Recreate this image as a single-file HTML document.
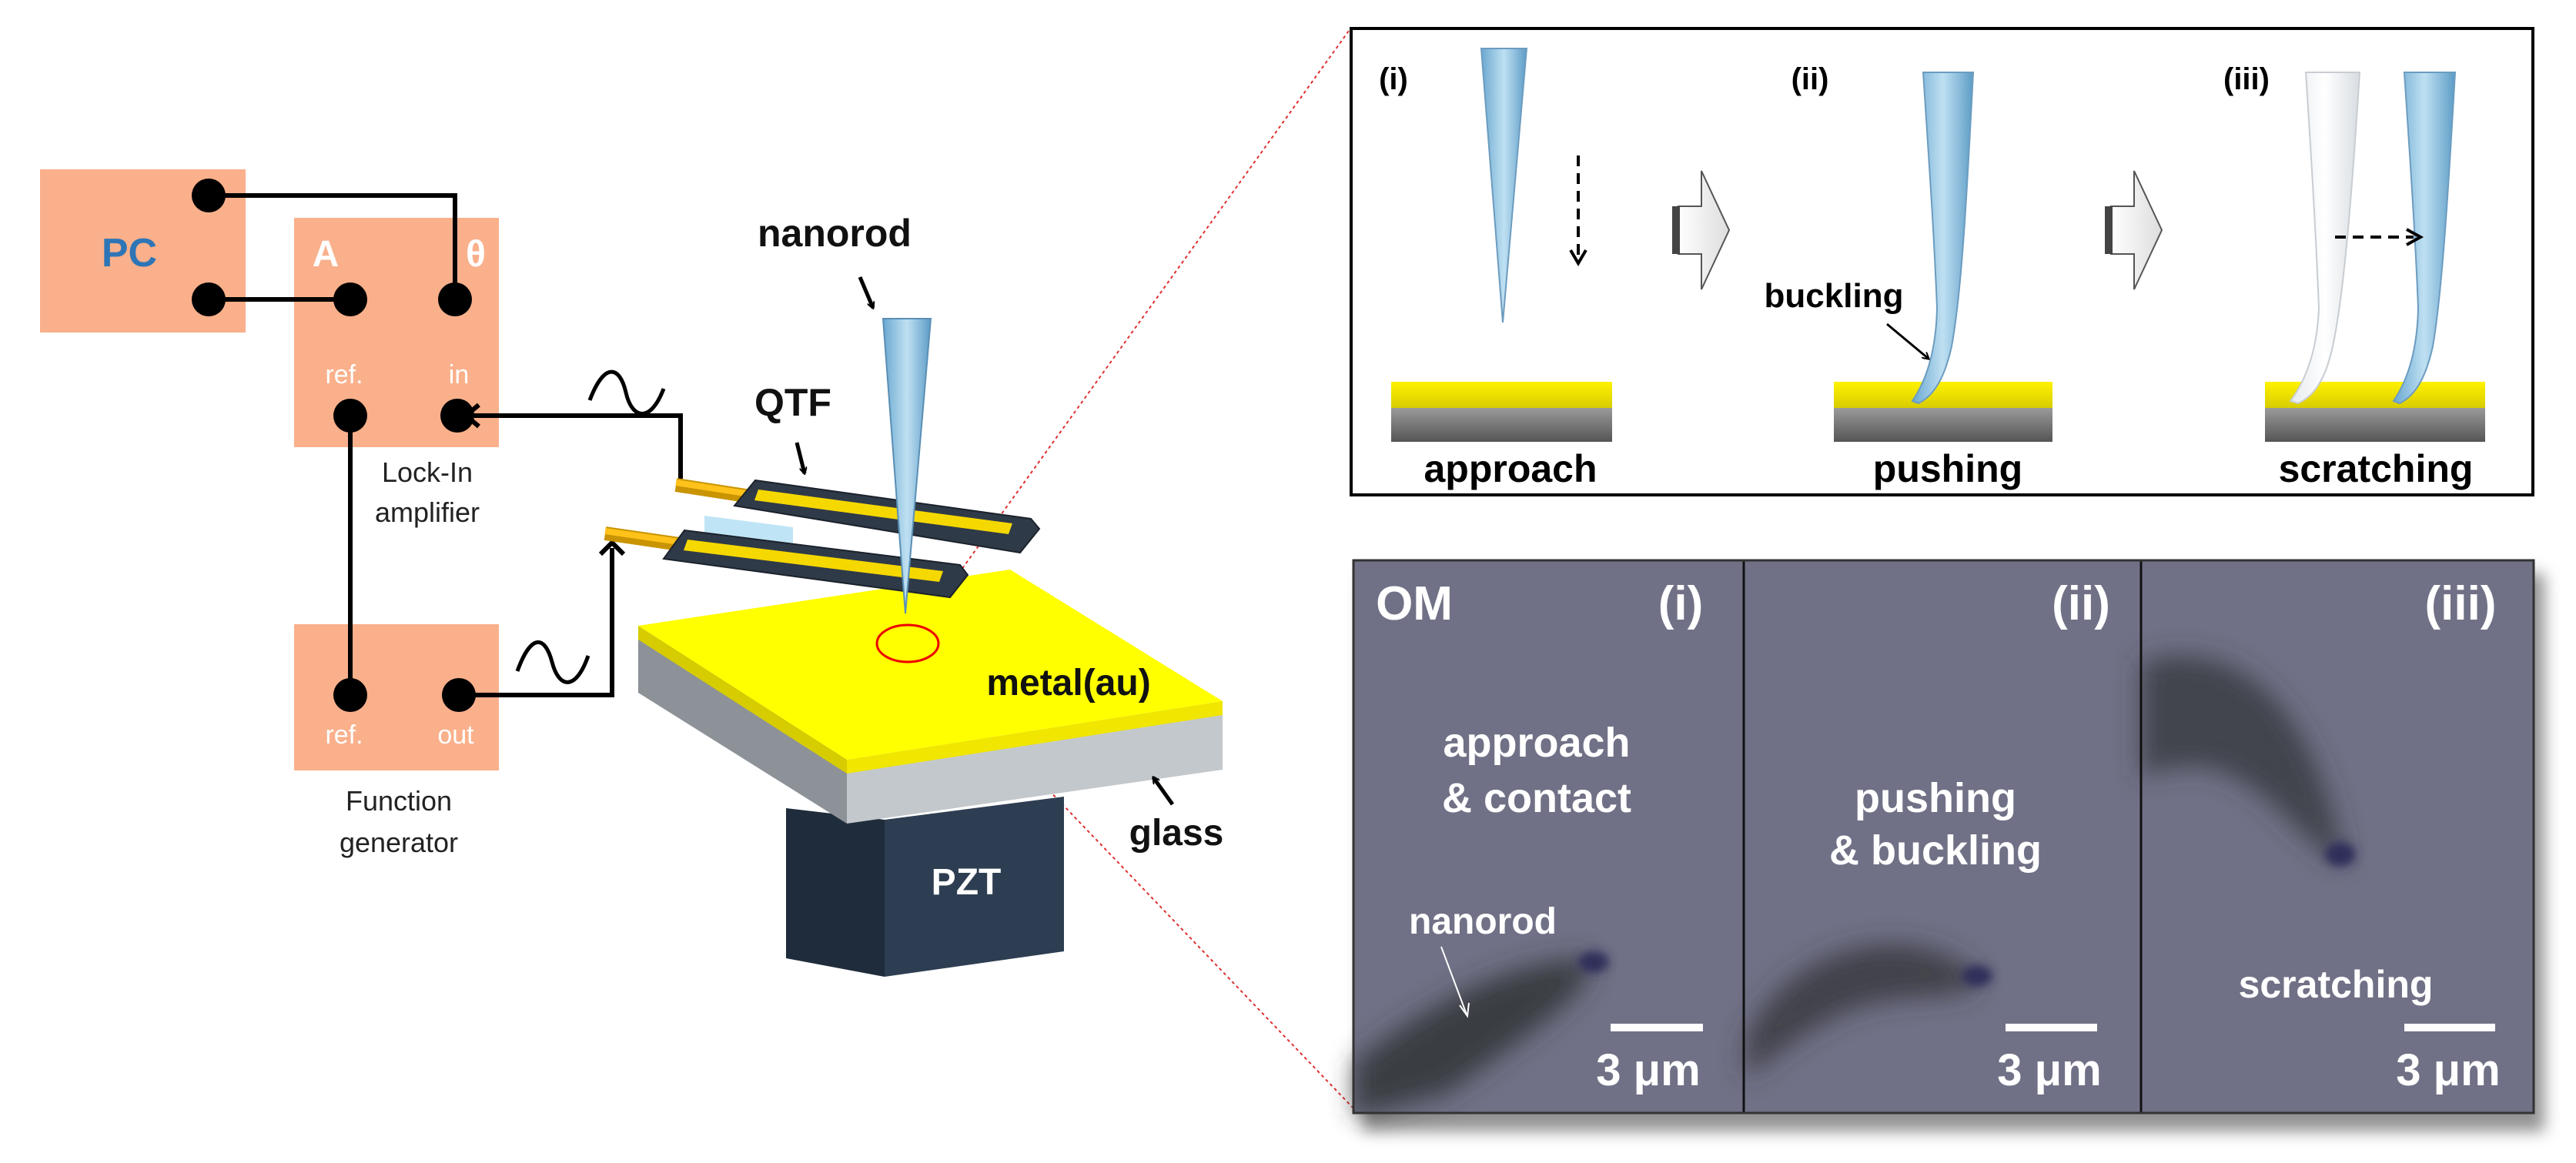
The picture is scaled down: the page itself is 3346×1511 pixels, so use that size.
<!DOCTYPE html>
<html><head><meta charset="utf-8"><style>
html,body{margin:0;padding:0;background:#fff;}
svg{display:block;}
text{font-family:"Liberation Sans",sans-serif;}
.nar{font-family:"Liberation Sans Narrow","Liberation Sans",sans-serif;}
</style></head><body>
<svg width="3346" height="1511" viewBox="0 0 3346 1511" xmlns="http://www.w3.org/2000/svg">
<defs>
<linearGradient id="tipg" x1="0" x2="1" y1="0" y2="0">
<stop offset="0" stop-color="#6aa8d0"/><stop offset="0.5" stop-color="#bfe0f2"/><stop offset="1" stop-color="#5d9cc6"/></linearGradient>
<linearGradient id="ghost" x1="0" x2="1"><stop offset="0" stop-color="#e6eaee"/><stop offset="0.5" stop-color="#ffffff"/><stop offset="1" stop-color="#d8dde2"/></linearGradient>
<linearGradient id="yl" x1="0" y1="0" x2="0" y2="1"><stop offset="0" stop-color="#fff200"/><stop offset="1" stop-color="#d8cc00"/></linearGradient>
<linearGradient id="gr" x1="0" y1="0" x2="0" y2="1"><stop offset="0" stop-color="#9a9a9a"/><stop offset="1" stop-color="#555"/></linearGradient>
<linearGradient id="arr" x1="0" x2="1"><stop offset="0" stop-color="#fff"/><stop offset="1" stop-color="#ddd"/></linearGradient>
<filter id="blur" x="-50%" y="-50%" width="200%" height="200%"><feGaussianBlur stdDeviation="16"/></filter>
<filter id="blur2" x="-50%" y="-50%" width="200%" height="200%"><feGaussianBlur stdDeviation="6"/></filter>
<filter id="sh" x="-10%" y="-10%" width="120%" height="130%"><feGaussianBlur stdDeviation="10"/></filter>
<marker id="ah" markerWidth="10" markerHeight="10" refX="8" refY="5" orient="auto" markerUnits="userSpaceOnUse" viewBox="0 0 10 10"><path d="M0,0 L9,5 L0,10" fill="none" stroke="#000" stroke-width="2"/></marker>
</defs>

<line x1="1180" y1="836" x2="1752" y2="40" stroke="#e03030" stroke-width="2" stroke-dasharray="4,4"/>
<line x1="1180" y1="836" x2="1758" y2="1440" stroke="#e03030" stroke-width="2" stroke-dasharray="4,4"/>

<rect x="52" y="220" width="267" height="212" fill="#f9b08b"/>
<rect x="382" y="283" width="266" height="298" fill="#f9b08b"/>
<rect x="382" y="811" width="266" height="190" fill="#f9b08b"/>

<g stroke="#000" stroke-width="6" fill="none">
<polyline points="271,254 591,254 591,389"/>
<line x1="271" y1="389" x2="455" y2="389"/>
<line x1="455" y1="540" x2="455" y2="903"/>
<polyline points="596,903 795,903 795,712"/>
<polyline points="884,622 884,540 605,540"/>
<polyline points="780,720 795,705 810,720"/>
<polyline points="622,526 605,540 622,554"/>
</g>
<g fill="#000">
<circle cx="271" cy="254" r="22"/><circle cx="271" cy="389" r="22"/>
<circle cx="455" cy="389" r="22"/><circle cx="591" cy="389" r="22"/>
<circle cx="455" cy="540" r="22"/><circle cx="594" cy="540" r="22"/>
<circle cx="455" cy="903" r="22"/><circle cx="596" cy="903" r="22"/>
</g>
<path d="M766,520 C785,470 805,475 813,510 C821,545 845,550 862,505" fill="none" stroke="#000" stroke-width="5"/>
<path d="M672,872 C690,822 708,826 717,860 C726,895 748,898 764,852" fill="none" stroke="#000" stroke-width="5"/>

<text x="168" y="346" font-size="52" font-weight="bold" fill="#2e75b6" text-anchor="middle">PC</text>
<text x="423" y="346" font-size="48" font-weight="bold" fill="#fff" text-anchor="middle">A</text>
<text x="618" y="346" font-size="48" font-weight="bold" fill="#fff" text-anchor="middle">θ</text>
<text x="447" y="498" font-size="34" fill="#fff" text-anchor="middle">ref.</text>
<text x="596" y="498" font-size="34" fill="#fff" text-anchor="middle">in</text>
<text x="447" y="966" font-size="34" fill="#fff" text-anchor="middle">ref.</text>
<text x="592" y="966" font-size="34" fill="#fff" text-anchor="middle">out</text>
<text x="555" y="626" font-size="36" fill="#222" text-anchor="middle">Lock-In</text>
<text x="555" y="678" font-size="36" fill="#222" text-anchor="middle">amplifier</text>
<text x="518" y="1053" font-size="36" fill="#222" text-anchor="middle">Function</text>
<text x="518" y="1107" font-size="36" fill="#222" text-anchor="middle">generator</text>

<polygon points="1021,1050 1149,1065 1149,1269 1021,1245" fill="#1f2c3c"/>
<polygon points="1149,1065 1382,1035 1382,1236 1149,1269" fill="#2e3e52"/>
<text x="1255" y="1162" font-size="48" font-weight="bold" fill="#fff" text-anchor="middle">PZT</text>

<polygon points="829,813 1100,987 1100,1070 829,900" fill="#8d9298"/>
<polygon points="1100,987 1588,911 1588,1000 1100,1070" fill="#c3c8cc"/>
<polygon points="829,813 1100,987 1100,1005 829,831" fill="#d6cc00"/>
<polygon points="1100,987 1588,911 1588,929 1100,1005" fill="#f0e600"/>
<polygon points="829,813 1312,740 1588,911 1100,987" fill="#ffff00"/>
<ellipse cx="1179" cy="836" rx="40" ry="24" fill="none" stroke="#e00" stroke-width="3"/>
<text x="1388" y="903" font-size="48" font-weight="bold" fill="#111" text-anchor="middle">metal(au)</text>
<text x="1528" y="1098" font-size="48" font-weight="bold" fill="#111" text-anchor="middle">glass</text>
<line x1="1523" y1="1045" x2="1498" y2="1010" stroke="#000" stroke-width="5" marker-end="url(#ah)"/>

<line x1="786" y1="693" x2="889" y2="708" stroke="#c99400" stroke-width="18"/>
<line x1="786" y1="690" x2="889" y2="705" stroke="#ffc21a" stroke-width="8"/>
<line x1="878" y1="630" x2="975" y2="645" stroke="#c99400" stroke-width="18"/>
<line x1="878" y1="627" x2="975" y2="642" stroke="#ffc21a" stroke-width="8"/>
<polygon points="915,670 1030,685 1030,710 915,695" fill="#bfe4f6"/>
<polygon points="981,624 1339,674 1350,687 1325,718 954,657" fill="#2f3a48" stroke="#1b222c" stroke-width="2"/>
<polygon points="985,636 1315,680 1310,694 980,650" fill="#f5d800"/>
<polygon points="889,689 1247,734 1257,747 1234,776 862,726" fill="#2f3a48" stroke="#1b222c" stroke-width="2"/>
<polygon points="893,701 1225,742 1220,756 888,715" fill="#f5d800"/>
<polygon points="1147,414 1209,414 1176,797" fill="url(#tipg)" stroke="#5a8fb5" stroke-width="2"/>
<text x="1084" y="320" font-size="50" font-weight="bold" fill="#111" text-anchor="middle">nanorod</text>
<line x1="1117" y1="360" x2="1134" y2="400" stroke="#000" stroke-width="5" marker-end="url(#ah)"/>
<text x="1030" y="540" font-size="50" font-weight="bold" fill="#111" text-anchor="middle">QTF</text>
<line x1="1035" y1="575" x2="1045" y2="615" stroke="#000" stroke-width="5" marker-end="url(#ah)"/>

<rect x="1755" y="37" width="1535" height="606" fill="#fff" stroke="#000" stroke-width="4"/>
<text x="1810" y="116" font-size="40" font-weight="bold" text-anchor="middle">(i)</text>
<text x="2351" y="116" font-size="40" font-weight="bold" text-anchor="middle">(ii)</text>
<text x="2918" y="116" font-size="40" font-weight="bold" text-anchor="middle">(iii)</text>
<polygon points="1924,63 1983,63 1952,419" fill="url(#tipg)" stroke="#6c9cc0" stroke-width="2"/>
<line x1="2050" y1="202" x2="2050" y2="335" stroke="#000" stroke-width="4" stroke-dasharray="14,9"/>
<polyline points="2040,325 2050,342 2060,325" fill="none" stroke="#000" stroke-width="4"/>
<rect x="1807" y="496" width="287" height="34" fill="url(#yl)"/>
<rect x="1807" y="530" width="287" height="44" fill="url(#gr)"/>
<rect x="2382" y="496" width="284" height="34" fill="url(#yl)"/>
<rect x="2382" y="530" width="284" height="44" fill="url(#gr)"/>
<rect x="2942" y="496" width="286" height="34" fill="url(#yl)"/>
<rect x="2942" y="530" width="286" height="44" fill="url(#gr)"/>
<text x="1962" y="626" font-size="50" font-weight="bold" text-anchor="middle">approach</text>
<text x="2530" y="626" font-size="50" font-weight="bold" text-anchor="middle">pushing</text>
<text x="3086" y="626" font-size="50" font-weight="bold" text-anchor="middle">scratching</text>
<g stroke="#555" stroke-width="2" fill="url(#arr)">
<polygon points="2180,268 2210,268 2210,222 2246,299 2210,376 2210,330 2180,330"/>
<polygon points="2742,268 2772,268 2772,222 2808,299 2772,376 2772,330 2742,330"/>
</g>
<rect x="2172" y="268" width="10" height="62" fill="#444"/>
<rect x="2734" y="268" width="10" height="62" fill="#444"/>
<path d="M2498,94 L2563,94 C2555,250 2548,380 2535,450 C2525,495 2510,515 2492,524 L2484,521 C2505,490 2515,450 2516,400 C2512,300 2505,200 2498,94 Z" fill="url(#tipg)" stroke="#6c9cc0" stroke-width="2"/>
<text x="2382" y="399" font-size="44" font-weight="bold" text-anchor="middle">buckling</text>
<line x1="2451" y1="421" x2="2505" y2="466" stroke="#000" stroke-width="3" marker-end="url(#ah)"/>
<path d="M2995,94 L3065,94 C3055,250 3045,380 3030,450 C3020,495 3005,515 2985,524 L2975,521 C2998,490 3010,450 3012,400 C3008,300 3002,200 2995,94 Z" fill="url(#ghost)" stroke="#c8cdd2" stroke-width="2"/>
<path d="M3123,94 L3189,94 C3180,250 3172,380 3160,450 C3150,495 3135,515 3117,524 L3109,521 C3130,490 3140,450 3141,400 C3137,300 3130,200 3123,94 Z" fill="url(#tipg)" stroke="#6c9cc0" stroke-width="2"/>
<line x1="3033" y1="308" x2="3135" y2="308" stroke="#000" stroke-width="4" stroke-dasharray="14,9"/>
<polyline points="3126,298 3144,308 3126,318" fill="none" stroke="#000" stroke-width="4"/>

<!-- OM panel -->
<rect x="1770" y="745" width="1535" height="725" fill="#777" filter="url(#sh)" opacity="0.8"/>
<rect x="1758" y="728" width="1533" height="718" fill="#707186"/>
<g filter="url(#blur)">
<path d="M1760,1450 L1760,1380 C1860,1300 1960,1250 2060,1245 C2085,1280 1990,1340 1880,1420 Z" fill="#35383c" opacity="0.9"/>
<path d="M2268,1350 C2320,1230 2480,1190 2565,1265 C2575,1300 2520,1290 2450,1300 C2380,1310 2320,1360 2268,1400 Z" fill="#383b40" opacity="0.85"/>
<path d="M2782,860 C2880,830 3000,880 3045,1120 C3000,1110 2960,1030 2880,1000 C2840,990 2800,1000 2782,1010 Z" fill="#3a3d42" opacity="0.85"/>
</g>
<g filter="url(#blur2)" fill="#2e2e5a">
<ellipse cx="2070" cy="1250" rx="20" ry="14"/>
<ellipse cx="2568" cy="1268" rx="20" ry="14"/>
<ellipse cx="3040" cy="1110" rx="20" ry="16"/>
</g>
<line x1="2265" y1="728" x2="2265" y2="1446" stroke="#111" stroke-width="3"/>
<line x1="2781" y1="728" x2="2781" y2="1446" stroke="#111" stroke-width="3"/>
<rect x="1758" y="728" width="1533" height="718" fill="none" stroke="#333" stroke-width="3"/>
<g fill="#fff" font-weight="bold" class="nar">
<text class="nar" x="1837" y="805" font-size="62" text-anchor="middle">OM</text>
<text class="nar" x="2183" y="805" font-size="62" text-anchor="middle">(i)</text>
<text class="nar" x="2703" y="805" font-size="62" text-anchor="middle">(ii)</text>
<text class="nar" x="3196" y="805" font-size="62" text-anchor="middle">(iii)</text>
<text class="nar" x="1996" y="983" font-size="54" text-anchor="middle">approach</text>
<text class="nar" x="1996" y="1055" font-size="54" text-anchor="middle">&amp; contact</text>
<text class="nar" x="1926" y="1213" font-size="48" text-anchor="middle">nanorod</text>
<text class="nar" x="2514" y="1055" font-size="54" text-anchor="middle">pushing</text>
<text class="nar" x="2514" y="1123" font-size="54" text-anchor="middle">&amp; buckling</text>
<text class="nar" x="3034" y="1296" font-size="50" text-anchor="middle">scratching</text>
<text class="nar" x="2141" y="1410" font-size="58" text-anchor="middle">3 μm</text>
<text class="nar" x="2662" y="1410" font-size="58" text-anchor="middle">3 μm</text>
<text class="nar" x="3180" y="1410" font-size="58" text-anchor="middle">3 μm</text>
</g>
<g stroke="#fff" stroke-width="10">
<line x1="2092" y1="1335" x2="2212" y2="1335"/>
<line x1="2605" y1="1335" x2="2724" y2="1335"/>
<line x1="3123" y1="1335" x2="3241" y2="1335"/>
</g>
<line x1="1872" y1="1230" x2="1905" y2="1318" stroke="#fff" stroke-width="2"/>
<polyline points="1896,1306 1906,1320 1908,1303" fill="none" stroke="#fff" stroke-width="2"/>
</svg>
</body></html>
